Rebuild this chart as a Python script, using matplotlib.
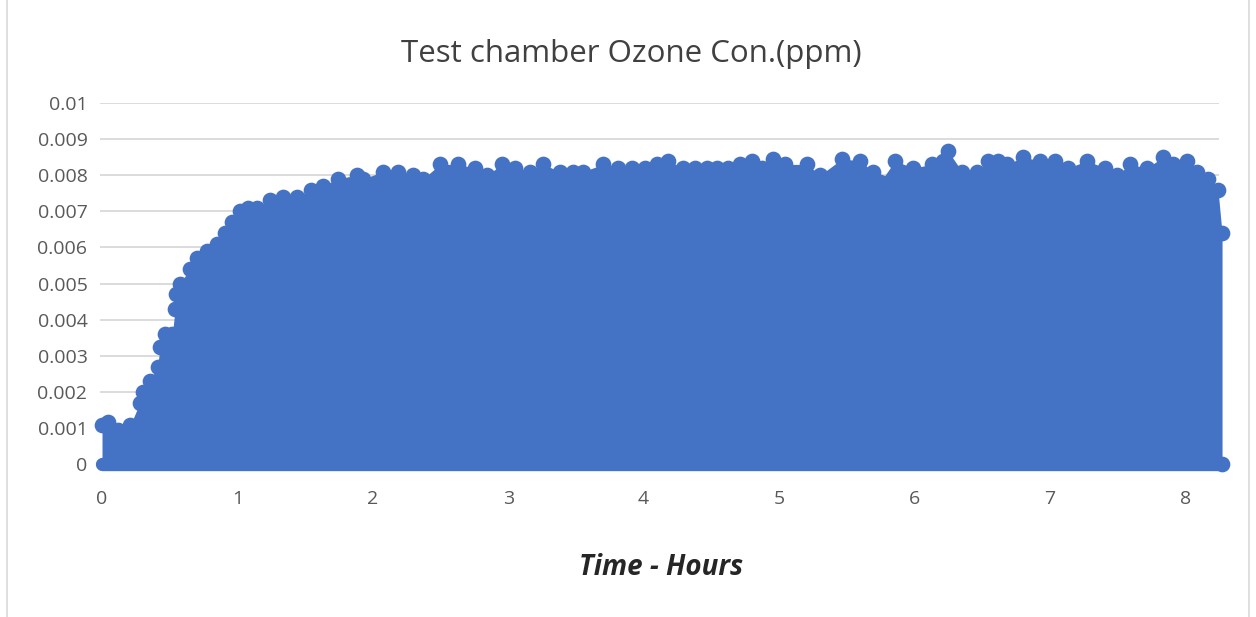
import matplotlib.pyplot as plt
from matplotlib.patches import Rectangle

# Upper envelope of the ozone readings
hours = [0.0, 0.044, 0.12, 0.21, 0.28, 0.30, 0.355, 0.41, 0.43, 0.465, 0.52, 0.54,
         0.547, 0.576, 0.65, 0.70, 0.775, 0.85, 0.91, 0.96, 1.02, 1.08, 1.145,
         1.24, 1.34, 1.44, 1.54, 1.63, 1.74, 1.88, 1.93, 2.075, 2.186, 2.297,
         2.371, 2.496, 2.629, 2.755, 2.843, 2.954, 3.050, 3.161, 3.257, 3.383,
         3.479, 3.552, 3.700, 3.811, 3.914, 4.010, 4.099, 4.180, 4.291, 4.380,
         4.468, 4.542, 4.623, 4.712, 4.801, 4.874, 4.956, 5.044, 5.207, 5.303,
         5.465, 5.598, 5.694, 5.746, 5.857, 5.990, 6.130, 6.211, 6.248, 6.352,
         6.462, 6.544, 6.617, 6.684, 6.802, 6.928, 7.038, 7.134, 7.275, 7.408,
         7.496, 7.592, 7.718, 7.836, 7.910, 8.013, 8.087, 8.168, 8.242, 8.272,
         8.272]
ozone = [0.00107, 0.00117, 0.00095, 0.00108, 0.0017, 0.0020, 0.0023, 0.0027,
         0.00325, 0.0036, 0.0036, 0.0043, 0.0047, 0.0050, 0.0054, 0.0057, 0.0059,
         0.0061, 0.0064, 0.0067, 0.0070, 0.0071, 0.0071, 0.0073, 0.0074, 0.0074,
         0.0076, 0.0077, 0.0079, 0.0080, 0.0079, 0.0081, 0.0081, 0.0080, 0.0079,
         0.0083, 0.0083, 0.0082, 0.0080, 0.0083, 0.0082, 0.0081, 0.0083, 0.0081,
         0.0081, 0.0081, 0.0083, 0.0082, 0.0082, 0.0082, 0.0083, 0.0084, 0.0082,
         0.0082, 0.0082, 0.0082, 0.0082, 0.0083, 0.0084, 0.0082, 0.00845, 0.0083,
         0.0083, 0.0080, 0.00845, 0.0084, 0.0081, 0.0078, 0.0084, 0.0082, 0.0083,
         0.0084, 0.00867, 0.0081, 0.0081, 0.0084, 0.0084, 0.0083, 0.0085, 0.0084,
         0.0084, 0.0082, 0.0084, 0.0082, 0.0080, 0.0083, 0.0082, 0.0085, 0.0083,
         0.0084, 0.0081, 0.0079, 0.0076, 0.0064, 0.0]

x_ticks = [0, 1, 2, 3, 4, 5, 6, 7, 8]
y_ticks = [0, 0.001, 0.002, 0.003, 0.004, 0.005, 0.006, 0.007, 0.008, 0.009, 0.01]
y_labels = ['0', '0.001', '0.002', '0.003', '0.004', '0.005', '0.006', '0.007',
            '0.008', '0.009', '0.01']

blue = '#4472C4'
plt.rcParams['font.family'] = ['Open Sans', 'DejaVu Sans']

fig = plt.figure(figsize=(12.56, 6.17), dpi=100)
ax = fig.add_axes([0.0796, 0.248, 0.891, 0.585])

# filled body, marker crest and the row of zero readings along the bottom
ax.fill_between(hours, 0, ozone, color=blue, linewidth=0, clip_on=False, zorder=2)
ax.plot(hours, ozone, 'o', color=blue, markersize=10.3, clip_on=False, zorder=3)
ax.plot([hours[0], hours[-1]], [0, 0], color=blue, linewidth=9.6,
        solid_capstyle='round', clip_on=False, zorder=3)

ax.set_xlim(-0.015, 8.25)
ax.set_ylim(0, 0.01)
ax.set_xticks(x_ticks)
ax.set_yticks(y_ticks)
ax.set_yticklabels(y_labels)
ax.tick_params(length=0, labelsize=14, labelcolor='#595959')
ax.tick_params(axis='x', pad=19)
ax.tick_params(axis='y', pad=9)
ax.grid(axis='y', color='#d9d9d9', linewidth=1.3, zorder=0)
ax.set_axisbelow(True)
for s in ax.spines.values():
    s.set_visible(False)

fig.text(0.503, 0.912, 'Test chamber Ozone Con.(ppm)', ha='center', va='center',
         fontsize=22.5, color='#404040')
fig.text(0.526, 0.08, 'Time - Hours', ha='center', va='center', fontsize=20,
         fontweight='bold', fontstyle='italic', color='#262626')

fig.patches.append(Rectangle((0.0056, -0.01), 0.989, 1.05, transform=fig.transFigure,
                             fill=False, edgecolor='#d9d9d9', linewidth=1.2))

fig.savefig('out.png', dpi=100)
